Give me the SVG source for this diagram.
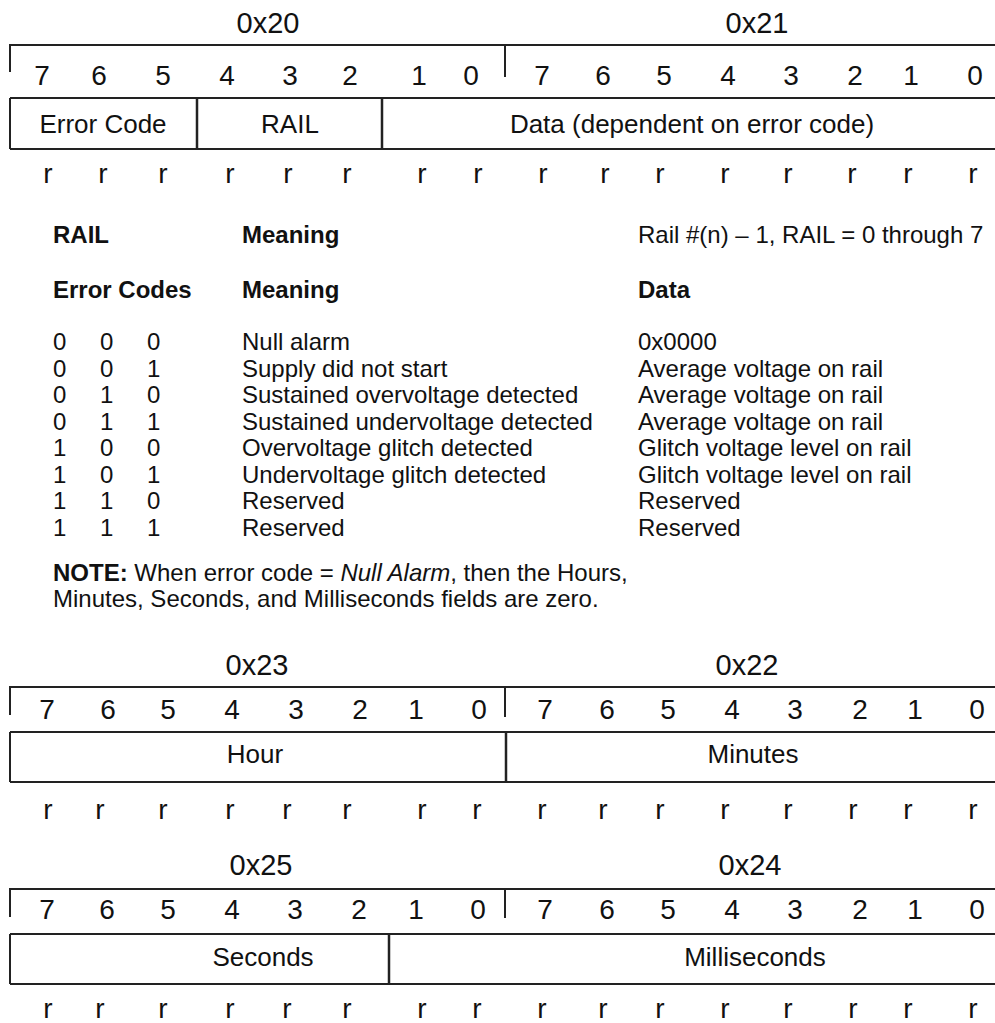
<svg xmlns="http://www.w3.org/2000/svg" width="995" height="1023" viewBox="0 0 995 1023">
<style>
text{font-family:"Liberation Sans",Arial,sans-serif;fill:#111}
.hdr{font-size:29px;text-anchor:middle}
.bit{font-size:28px;text-anchor:middle}
.fld{font-size:26px;text-anchor:middle}
.rw{font-size:28px;text-anchor:middle}
.tb{font-size:24px}
.b{font-weight:bold}
.ln{stroke:#222;stroke-width:2;fill:none}
.dv{stroke:#222;stroke-width:2.5;fill:none}
</style>
<rect width="995" height="1023" fill="#fff"/>

<g id="reg-20-21">
<text class="hdr" x="268" y="33">0x20</text>
<text class="hdr" x="757" y="33">0x21</text>
<path class="ln" d="M10 72V45H995M505 45V77M10 98H995M10 149H995M10 98V149"/>
<path class="dv" d="M197 98V149M382 98V149"/>
<g class="bit">
<text x="42" y="85">7</text><text x="99" y="85">6</text><text x="163" y="85">5</text><text x="227" y="85">4</text><text x="290" y="85">3</text><text x="350" y="85">2</text><text x="419" y="85">1</text><text x="471" y="85">0</text>
<text x="542" y="85">7</text><text x="603" y="85">6</text><text x="664" y="85">5</text><text x="728" y="85">4</text><text x="791" y="85">3</text><text x="855" y="85">2</text><text x="911" y="85">1</text><text x="975" y="85">0</text>
</g>
<text class="fld" x="103" y="133">Error Code</text>
<text class="fld" x="290" y="133">RAIL</text>
<text class="fld" x="692" y="133">Data (dependent on error code)</text>
<g class="rw">
<text x="48" y="183">r</text><text x="103" y="183">r</text><text x="163" y="183">r</text><text x="230" y="183">r</text><text x="288" y="183">r</text><text x="347" y="183">r</text><text x="422" y="183">r</text><text x="478" y="183">r</text>
<text x="543" y="183">r</text><text x="605" y="183">r</text><text x="660" y="183">r</text><text x="725" y="183">r</text><text x="788" y="183">r</text><text x="852" y="183">r</text><text x="908" y="183">r</text><text x="973" y="183">r</text>
</g>
</g>

<g id="legend">
<text class="tb b" x="53" y="243">RAIL</text>
<text class="tb b" x="242" y="243">Meaning</text>
<text class="tb" x="638" y="243">Rail #(n) – 1, RAIL = 0 through 7</text>
<text class="tb b" x="53" y="298">Error Codes</text>
<text class="tb b" x="242" y="298">Meaning</text>
<text class="tb b" x="638" y="298">Data</text>
<g class="tb">
<text x="53" y="350">0</text><text x="100" y="350">0</text><text x="147" y="350">0</text><text x="242" y="350">Null alarm</text><text x="638" y="350">0x0000</text>
<text x="53" y="377">0</text><text x="100" y="377">0</text><text x="147" y="377">1</text><text x="242" y="377">Supply did not start</text><text x="638" y="377">Average voltage on rail</text>
<text x="53" y="403">0</text><text x="100" y="403">1</text><text x="147" y="403">0</text><text x="242" y="403">Sustained overvoltage detected</text><text x="638" y="403">Average voltage on rail</text>
<text x="53" y="430">0</text><text x="100" y="430">1</text><text x="147" y="430">1</text><text x="242" y="430">Sustained undervoltage detected</text><text x="638" y="430">Average voltage on rail</text>
<text x="53" y="456">1</text><text x="100" y="456">0</text><text x="147" y="456">0</text><text x="242" y="456">Overvoltage glitch detected</text><text x="638" y="456">Glitch voltage level on rail</text>
<text x="53" y="483">1</text><text x="100" y="483">0</text><text x="147" y="483">1</text><text x="242" y="483">Undervoltage glitch detected</text><text x="638" y="483">Glitch voltage level on rail</text>
<text x="53" y="509">1</text><text x="100" y="509">1</text><text x="147" y="509">0</text><text x="242" y="509">Reserved</text><text x="638" y="509">Reserved</text>
<text x="53" y="536">1</text><text x="100" y="536">1</text><text x="147" y="536">1</text><text x="242" y="536">Reserved</text><text x="638" y="536">Reserved</text>
</g>
<text class="tb" x="53" y="581"><tspan class="b">NOTE:</tspan> When error code = <tspan font-style="italic">Null Alarm</tspan>, then the Hours,</text>
<text class="tb" x="53" y="607">Minutes, Seconds, and Milliseconds fields are zero.</text>
</g>

<g id="reg-23-22">
<text class="hdr" x="257" y="675">0x23</text>
<text class="hdr" x="747" y="675">0x22</text>
<path class="ln" d="M10 715V687H995M505 687V717M10 732H995M10 782H995M10 732V782"/>
<path class="dv" d="M506 732V782"/>
<g class="bit">
<text x="47" y="719">7</text><text x="108" y="719">6</text><text x="168" y="719">5</text><text x="232" y="719">4</text><text x="296" y="719">3</text><text x="360" y="719">2</text><text x="416" y="719">1</text><text x="479" y="719">0</text>
<text x="545" y="719">7</text><text x="607" y="719">6</text><text x="668" y="719">5</text><text x="732" y="719">4</text><text x="795" y="719">3</text><text x="860" y="719">2</text><text x="915" y="719">1</text><text x="977" y="719">0</text>
</g>
<text class="fld" x="255" y="763">Hour</text>
<text class="fld" x="753" y="763">Minutes</text>
<g class="rw">
<text x="48" y="819">r</text><text x="100" y="819">r</text><text x="163" y="819">r</text><text x="230" y="819">r</text><text x="287" y="819">r</text><text x="347" y="819">r</text><text x="422" y="819">r</text><text x="477" y="819">r</text>
<text x="542" y="819">r</text><text x="603" y="819">r</text><text x="660" y="819">r</text><text x="725" y="819">r</text><text x="788" y="819">r</text><text x="853" y="819">r</text><text x="908" y="819">r</text><text x="973" y="819">r</text>
</g>
</g>

<g id="reg-25-24">
<text class="hdr" x="261" y="875">0x25</text>
<text class="hdr" x="750" y="875">0x24</text>
<path class="ln" d="M10 917V889H995M505 889V918M10 934H995M10 984H995M10 934V984"/>
<path class="dv" d="M389 934V984"/>
<g class="bit">
<text x="47" y="919">7</text><text x="107" y="919">6</text><text x="168" y="919">5</text><text x="232" y="919">4</text><text x="295" y="919">3</text><text x="359" y="919">2</text><text x="416" y="919">1</text><text x="478" y="919">0</text>
<text x="545" y="919">7</text><text x="607" y="919">6</text><text x="668" y="919">5</text><text x="732" y="919">4</text><text x="795" y="919">3</text><text x="860" y="919">2</text><text x="915" y="919">1</text><text x="977" y="919">0</text>
</g>
<text class="fld" x="263" y="966">Seconds</text>
<text class="fld" x="755" y="966">Milliseconds</text>
<g class="rw">
<text x="48" y="1018">r</text><text x="100" y="1018">r</text><text x="163" y="1018">r</text><text x="230" y="1018">r</text><text x="287" y="1018">r</text><text x="347" y="1018">r</text><text x="422" y="1018">r</text><text x="477" y="1018">r</text>
<text x="542" y="1018">r</text><text x="603" y="1018">r</text><text x="660" y="1018">r</text><text x="725" y="1018">r</text><text x="788" y="1018">r</text><text x="853" y="1018">r</text><text x="908" y="1018">r</text><text x="973" y="1018">r</text>
</g>
</g>
</svg>
